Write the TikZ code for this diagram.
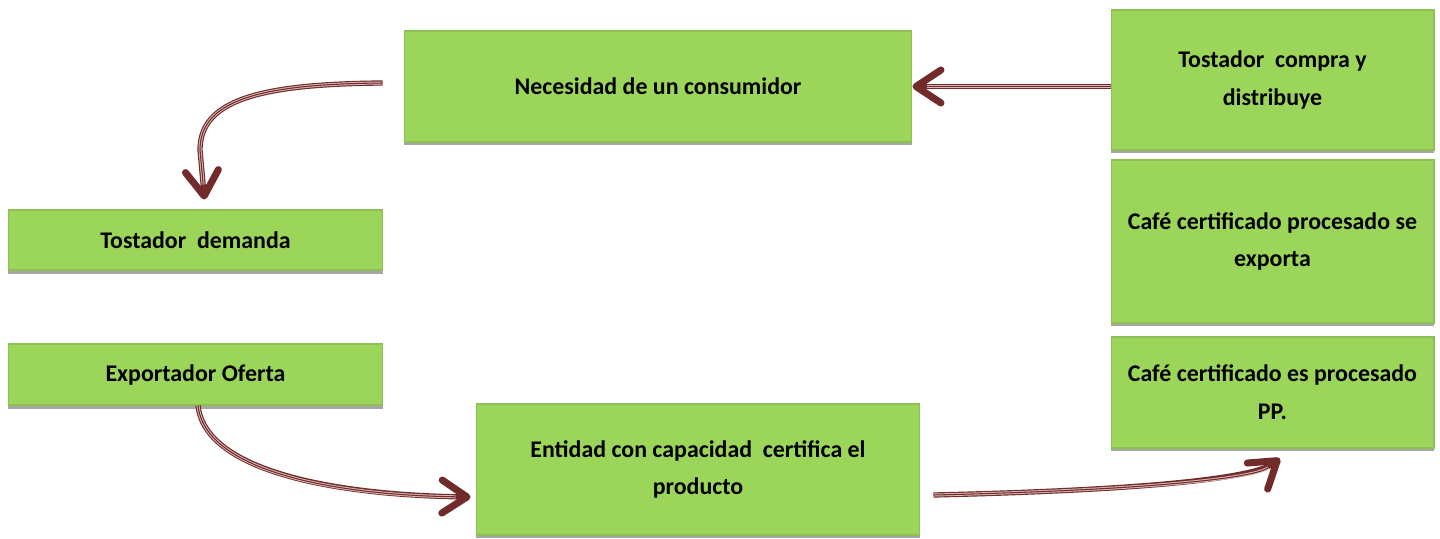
\documentclass[tikz,border=0pt]{standalone}
\usepackage{fontspec}
\setmainfont{Carlito}
\usetikzlibrary{arrows.meta,shadows}
\definecolor{boxgreen}{HTML}{9BD55A}
\definecolor{boxedge}{HTML}{8DBF55}
\definecolor{arrowred}{HTML}{722B2B}
\definecolor{arrowpale}{HTML}{D9B8B8}

\begin{document}
\begin{tikzpicture}[x=0.02cm, y=-0.02cm,
	stagebox/.style={draw=boxedge, line width=0.6pt, fill=boxgreen, align=center,
		inner sep=2pt, font=\fontsize{13.6}{21.5}\selectfont\bfseries,
		drop shadow={shadow xshift=0pt, shadow yshift=-0.07cm, fill=black!35, opacity=1}},
	flow/.style={draw=arrowred, line width=3pt, -{Straight Barb[length=0.5cm, width=0.66cm, line width=4pt, round]},
		postaction={draw=arrowpale, line width=1.7pt, -, shorten >=0.3cm},
		postaction={draw=arrowred, line width=0.6pt, -, shorten >=0.3cm}}]
	\useasboundingbox (0,0) rectangle (1440,538);
	\node[stagebox, minimum width=10.16cm, minimum height=2.22cm] (need) at (658, 86.5) {Necesidad de un consumidor};
	\node[stagebox, minimum width=6.46cm, minimum height=2.8cm] (buy) at (1272.5, 80) {Tostador\ \ compra y\\distribuye};
	\node[stagebox, minimum width=6.46cm, minimum height=3.26cm] (export) at (1272.5, 241.5) {Café certificado procesado se\\exporta};
	\node[stagebox, minimum width=6.46cm, minimum height=2.22cm] (process) at (1272.5, 392.5) {Café certificado es procesado\\PP.};
	\node[stagebox, minimum width=7.5cm, minimum height=1.2cm] (demand) at (195.5, 240) {Tostador\ \ demanda};
	\node[stagebox, minimum width=7.5cm, minimum height=1.22cm] (offer) at (195.5, 374.5) {Exportador Oferta};
	\node[stagebox, minimum width=8.88cm, minimum height=2.62cm] (cert) at (698, 469.5) {Entidad con capacidad\ \ certifica el\\producto};
	\draw[flow] (buy.west |- need.east) -- (need.east);
	\draw[flow] ([xshift=-0.42cm, yshift=0.07cm]need.west) .. controls (260, 84) and (200, 100) .. (200, 150) -- ([xshift=0.18cm, yshift=0.2cm]demand.north);
	\draw[flow] ([xshift=0.05cm]offer.south) .. controls (205, 470) and (330, 495) .. ([xshift=-0.1cm, yshift=-0.55cm]cert.west);
	\draw[flow] ([xshift=0.26cm, yshift=-0.51cm]cert.east) .. controls (1150, 490) and (1255, 478) .. ([xshift=0.15cm, yshift=-0.2cm]process.south);
\end{tikzpicture}
\end{document}
